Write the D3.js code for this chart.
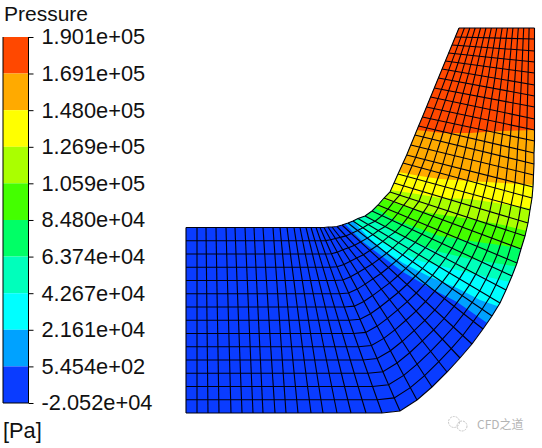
<!DOCTYPE html>
<html>
<head>
<meta charset="utf-8">
<script src="https://cdn.jsdelivr.net/npm/d3@7"></script>
<style>
  body { margin: 0; background: #fff; }
  text { font-family: "Liberation Sans", Arial, sans-serif; fill: #111; }
</style>
</head>
<body>
<div id="chart"></div>
<script>
var svgWidth = 542;
var svgHeight = 448;

// colour legend
var legendTitle = "Pressure";
var legendUnit = "[Pa]";
var tickValues = [190100, 169100, 148000, 126900, 105900, 84800, 63740, 42670, 21610, 545.4, -20520];
var tickLabels = ["1.901e+05", "1.691e+05", "1.480e+05", "1.269e+05", "1.059e+05", "8.480e+04",
  "6.374e+04", "4.267e+04", "2.161e+04", "5.454e+02", "-2.052e+04"];
var bandColors = ["#ff4800", "#ffaa00", "#ffff00", "#aaff00", "#44ff00", "#00ff66",
  "#00ffbb", "#00ffff", "#00a2ff", "#0a3cff"];

// mesh walls, one entry per streamwise station
var innerX = [0, 11, 20, 30, 40, 49, 59, 68, 77, 87, 94, 101, 108, 114, 120, 125, 130, 134,
  138, 142, 146, 151, 156, 162, 167, 172, 179, 186, 192, 198, 204, 208, 212, 217,
  220.7, 224.8, 228.9, 232.6, 236.4, 240.5, 244.6, 248.3, 252.4, 256.1, 259.4, 262.7, 266, 269.3, 273];
var innerY = [185.5, 185.5, 185.5, 185.5, 185.5, 185.5, 185.5, 185.5, 185.5, 185.5, 185.5, 185.5, 185.5, 185.5, 185.5, 185.5, 185.5, 185.5,
  185.5, 186, 186, 186.5, 188, 190, 192, 194.5, 197, 202, 208, 215, 221, 230, 239, 250,
  258, 268, 278, 287, 296, 306, 316, 325, 335, 344, 352, 360, 368, 376, 385];
var outerX = [0, 11, 22, 33, 45, 56, 67, 77, 89, 100, 112, 125, 137, 151, 165, 180, 196, 214,
  231, 246, 261, 274, 286, 297, 306, 314, 320, 326, 331, 335, 339, 342, 344, 346,
  347, 347.5, 348, 348, 348.5, 348.5, 348.5, 348.5, 348.5, 348.5, 348.5, 348.5, 348.5, 348.5, 348.5];
var outerY = [0, 0, 0, 0, 0, 0, 0, 0, 0, 0, 0, 0, 0, 0, 0, 0, 0, 2,
  13, 26, 41, 55, 69, 84, 97, 110, 123, 137, 150, 164, 177, 190, 203, 215,
  226, 238, 249, 260, 272, 283, 294, 306, 317, 328, 340, 351, 362, 374, 385];
var cellsAcross = 14;

// contour band edges, low pressure side first
var iso545 = [[149, 199], [159, 189], [177, 171], [197, 156], [217, 141], [244, 125], [271, 111], [304, 88], [334, 63]];
var iso21610 = [[159, 200], [169, 190], [182, 176], [197, 163], [217, 150], [244, 136], [271, 125], [294, 113], [314, 106], [344, 93]];
var iso42670 = [[156, 203], [166, 193], [197, 170], [234, 152], [284, 140], [324, 131], [349, 126], [374, 121]];
var iso63740 = [[166, 208], [176, 199], [214, 177], [254, 161], [284, 154], [327, 147], [349, 143], [374, 138]];
var iso84800 = [[174, 215], [186, 207], [209, 193], [226, 187], [254, 177], [291, 171], [314, 168], [349, 162], [374, 158]];
var iso105900 = [[179, 221], [194, 215], [221, 206], [244, 200], [284, 194], [317, 188], [349, 180], [374, 176]];
var iso126900 = [[184, 226], [204, 223], [231, 219], [254, 215], [284, 214], [317, 209], [349, 204], [374, 200]];
var iso148000 = [[192, 245], [212, 241], [234, 237], [254, 234], [284, 232], [317, 230], [349, 228], [374, 226]];
var iso169100 = [[211, 285], [231, 283], [257, 280], [284, 280], [314, 282], [349, 283], [374, 284]];
var bandEdges = [iso545, iso21610, iso42670, iso63740, iso84800, iso105900, iso126900, iso148000, iso169100];

var svg = d3.select("#chart")
  .append("svg")
  .attr("width", svgWidth)
  .attr("height", svgHeight)
  .style("display", "block");

// model scales for the duct
var xScale = d3.scaleLinear().domain([0, 348.5]).range([186, 534.5]);
var yScale = d3.scaleLinear().domain([0, 385]).range([413, 28]);

var meshLine = d3.line()
  .x(d => xScale(d[0]))
  .y(d => yScale(d[1]));

var inner = innerX.map((x, i) => [x, innerY[i]]);
var outer = outerX.map((x, i) => [x, outerY[i]]);

// duct outline, also used to clip the colour bands
var outline = inner.concat(outer.slice().reverse());

svg.append("clipPath")
  .attr("id", "duct")
  .append("path")
  .attr("d", meshLine(outline) + "Z");

var ductGroup = svg.append("g")
  .attr("clip-path", "url(#duct)");

// lowest band fills the duct, every other band is painted on top of it
ductGroup.append("path")
  .attr("d", meshLine(outline) + "Z")
  .attr("fill", bandColors[bandColors.length - 1]);

ductGroup.selectAll(".band")
  .data(bandEdges)
  .enter()
  .append("path")
  .attr("class", "band")
  .attr("fill", (d, i) => bandColors[bandColors.length - 2 - i])
  .attr("d", function(d) {
    var first = d[0];
    var last = d[d.length - 1];
    var closed = d.concat([[400, last[1]], [400, 400], [first[0], 400]]);
    return meshLine(closed) + "Z";
  });

// mesh nodes across each station
var rows = d3.range(cellsAcross + 1).map(function(j) {
  var t = j / cellsAcross;
  return inner.map((p, i) => [
    d3.interpolateNumber(p[0], outer[i][0])(t),
    d3.interpolateNumber(p[1], outer[i][1])(t)
  ]);
});

var meshGroup = svg.append("g")
  .attr("fill", "none")
  .attr("stroke", "#000010")
  .attr("stroke-width", 1.1);

meshGroup.selectAll(".row")
  .data(rows)
  .enter()
  .append("path")
  .attr("class", "row")
  .attr("d", meshLine);

meshGroup.selectAll(".station")
  .data(inner.map((p, i) => [p, outer[i]]))
  .enter()
  .append("path")
  .attr("class", "station")
  .attr("d", meshLine);

// colour bar
var legendScale = d3.scaleLinear()
  .domain([tickValues[tickValues.length - 1], tickValues[0]])
  .range([403, 37]);

var legendGroup = svg.append("g");

legendGroup.selectAll(".swatch")
  .data(bandColors)
  .enter()
  .append("rect")
  .attr("class", "swatch")
  .attr("x", 3)
  .attr("width", 25.5)
  .attr("y", (d, i) => legendScale(tickValues[i]))
  .attr("height", (d, i) => legendScale(tickValues[i + 1]) - legendScale(tickValues[i]))
  .attr("fill", d => d);

legendGroup.append("path")
  .attr("fill", "none")
  .attr("stroke", "#000")
  .attr("d", d3.line()([[3, 37], [3, 403], [28.5, 403], [28.5, 37]]));

var legendAxis = d3.axisRight(legendScale)
  .tickValues(tickValues)
  .tickFormat((d, i) => tickLabels[i])
  .tickSize(5)
  .tickPadding(8);

var axisGroup = legendGroup.append("g")
  .attr("transform", "translate(28.5, 0)")
  .call(legendAxis);

axisGroup.select(".domain").remove();
axisGroup.selectAll("text")
  .style("font-family", '"Liberation Sans", Arial, sans-serif')
  .style("font-size", "21.8px")
  .attr("fill", "#111");

legendGroup.append("text")
  .attr("x", 4)
  .attr("y", 21)
  .style("font-size", "21px")
  .text(legendTitle);

legendGroup.append("text")
  .attr("x", 3)
  .attr("y", 438)
  .style("font-size", "21.8px")
  .text(legendUnit);

// faint watermark in the corner
var mark = svg.append("g").attr("opacity", 0.55);

mark.append("circle").attr("cx", 454).attr("cy", 422).attr("r", 5.5)
  .attr("fill", "none").attr("stroke", "#999").attr("stroke-dasharray", "2 1");
mark.append("circle").attr("cx", 462).attr("cy", 426).attr("r", 5)
  .attr("fill", "none").attr("stroke", "#999").attr("stroke-dasharray", "2 1");
mark.append("text")
  .attr("x", 477)
  .attr("y", 429)
  .style("font-family", '"Noto Sans CJK SC", sans-serif')
  .style("font-size", "12px")
  .style("fill", "#777")
  .text("CFD之道");
</script>
</body>
</html>
